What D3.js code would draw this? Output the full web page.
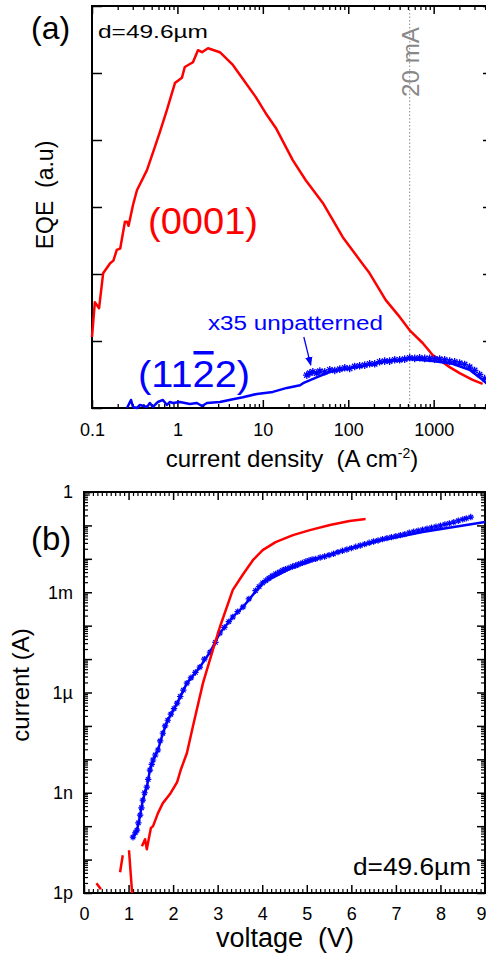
<!DOCTYPE html>
<html><head><meta charset="utf-8">
<script src="https://cdn.jsdelivr.net/npm/d3@7"></script>
<style>
body{margin:0;background:#fff}
svg{display:block}
text{font-family:"Liberation Sans",Arial,sans-serif}
</style>
</head><body>
<svg id="c" width="486" height="960"></svg>
<script>
// ---------- DATA ----------
// Panel (a): EQE (a.u.) vs current density (A cm^-2)
const eqeTickValues = [0.1, 1, 10, 100, 1000];
const eqeTickLabels = ["0.1", "1", "10", "100", "1000"];
const eqeYTicks = [0, 1, 2, 3, 4, 5, 6];
const markerCurrent20mA = 524; // A cm^-2 at 20 mA
const eqe0001 = [[0.100,1.06],[0.108,1.58],[0.121,1.49],[0.135,2.01],[0.163,2.16],[0.178,2.20],[0.195,2.36],[0.214,2.38],[0.243,2.78],[0.257,2.78],[0.268,2.72],[0.302,3.03],[0.336,3.25],[0.440,3.55],[0.546,3.90],[0.624,4.12],[0.754,4.45],[0.935,4.85],[1.13,4.93],[1.22,5.09],[1.52,5.16],[1.74,5.34],[1.94,5.31],[2.28,5.37],[3.14,5.31],[4.46,5.12],[5.84,4.91],[8.28,4.64],[10.8,4.40],[14.2,4.18],[22.4,3.70],[31.8,3.40],[50.4,3.06],[86.3,2.55],[136,2.21],[178,2.01],[275,1.61],[400,1.36],[524,1.16],[743,0.97],[973,0.79],[1538,0.61],[2014,0.52],[2857,0.42],[3741,0.36]];
const eqe1122 = [[0.257,0.0],[0.286,0.12],[0.302,0.015],[0.336,0.0],[0.364,0.045],[0.440,0.015],[0.476,0.075],[0.517,0.015],[0.591,0.09],[0.676,0.12],[0.754,0.045],[0.818,0.09],[0.886,0.075],[1.07,0.09],[1.40,0.06],[1.69,0.075],[1.94,0.03],[2.22,0.075],[3.14,0.09],[4.46,0.13],[5.84,0.16],[8.53,0.21],[13.1,0.24],[19.1,0.30],[27.3,0.34],[29.6,0.37],[43.3,0.46],[61.2,0.54],[126,0.61],[257,0.69],[524,0.73],[973,0.70],[1660,0.66],[2630,0.57],[3740,0.42],[4500,0.33]];
const eqeUnpatternedX35 = [[32.7,0.49],[35.5,0.52],[38.5,0.54],[42.8,0.52],[46.5,0.55],[53.1,0.54],[60.8,0.57],[69.5,0.56],[79.6,0.58],[91.0,0.60],[104,0.59],[119,0.62],[136,0.63],[156,0.64],[178,0.66],[204,0.66],[233,0.69],[267,0.70],[305,0.70],[350,0.72],[400,0.72],[458,0.73],[524,0.75],[600,0.74],[686,0.75],[785,0.74],[898,0.74],[1027,0.73],[1175,0.73],[1345,0.72],[1538,0.70],[1761,0.69],[2015,0.67],[2305,0.65],[2637,0.61],[3017,0.56],[3452,0.50],[3950,0.44],[4520,0.37]];
const arrowFrom = [30.2, 1.06], arrowTo = [36.4, 0.64];

// Panel (b): current (A, log10) vs voltage (V)
const ivXTicks = [0,1,2,3,4,5,6,7,8,9];
const ivYLabelExps = [-12, -9, -6, -3, 0];
const ivYLabels = ["1p", "1n", "1\u00b5", "1m", "1"];
const iv0001 = [[0.28,-11.71],[0.38,-11.89],null,[0.81,-11.38],[0.87,-10.87],null,[1.01,-10.72],[1.08,-12.0],null,[1.30,-10.60],[1.37,-10.39],[1.41,-10.69],[1.50,-10.06],[1.55,-10.00],[1.66,-9.61],[1.77,-9.31],[1.93,-9.04],[2.09,-8.68],[2.17,-8.32],[2.31,-7.81],[2.44,-7.04],[2.67,-5.72],[2.89,-4.73],[3.05,-4.04],[3.34,-2.93],[3.57,-2.46],[3.79,-2.04],[4.01,-1.74],[4.30,-1.50],[4.69,-1.29],[5.07,-1.14],[5.52,-0.99],[5.96,-0.87],[6.32,-0.81]];
const iv1122 = [[1.10,-10.33],[1.19,-10.12],[1.26,-9.67],[1.32,-9.22],[1.41,-8.83],[1.48,-8.32],[1.55,-8.02],[1.66,-7.72],[1.77,-7.22],[1.88,-6.83],[2.09,-6.32],[2.31,-5.72],[2.60,-5.24],[2.83,-4.79],[3.05,-4.22],[3.34,-3.74],[3.57,-3.44],[4.01,-2.72],[4.69,-2.25],[4.98,-2.13],[5.13,-2.04],[5.81,-1.74],[6.70,-1.44],[7.60,-1.20],[8.30,-1.05],[9.0,-0.90]];
const ivUnpatterned = [[1.10,-10.33],[1.15,-10.2],[1.19,-10.12],[1.22,-9.9],[1.26,-9.67],[1.29,-9.45],[1.32,-9.22],[1.36,-9.0],[1.41,-8.83],[1.44,-8.6],[1.48,-8.32],[1.52,-8.15],[1.55,-8.02],[1.60,-7.87],[1.66,-7.72],[1.71,-7.45],[1.77,-7.22],[1.82,-7.0],[1.88,-6.83],[1.95,-6.65],[2.02,-6.48],[2.09,-6.32],[2.16,-6.12],[2.23,-5.93],[2.31,-5.72],[2.40,-5.56],[2.50,-5.40],[2.60,-5.24],[2.70,-5.0],[2.83,-4.79],[2.95,-4.5],[3.05,-4.22],[3.15,-4.05],[3.25,-3.88],[3.34,-3.74],[3.45,-3.58],[3.57,-3.44],[3.70,-3.2],[3.85,-2.95],[3.93,-2.83],[4.01,-2.72],[4.08,-2.65],[4.15,-2.58],[4.22,-2.51],[4.30,-2.45],[4.38,-2.40],[4.45,-2.35],[4.52,-2.31],[4.60,-2.27],[4.68,-2.23],[4.75,-2.20],[4.82,-2.16],[4.90,-2.12],[4.98,-2.08],[5.05,-2.05],[5.12,-2.02],[5.2,-2.0],[5.3,-1.96],[5.4,-1.93],[5.5,-1.89],[5.6,-1.85],[5.7,-1.80],[5.8,-1.76],[5.9,-1.72],[6.0,-1.68],[6.1,-1.64],[6.2,-1.60],[6.3,-1.56],[6.4,-1.52],[6.5,-1.48],[6.6,-1.45],[6.7,-1.41],[6.8,-1.38],[6.9,-1.35],[7.0,-1.32],[7.1,-1.29],[7.2,-1.26],[7.3,-1.22],[7.4,-1.19],[7.5,-1.16],[7.6,-1.13],[7.7,-1.10],[7.8,-1.07],[7.9,-1.04],[8.0,-1.01],[8.1,-0.97],[8.2,-0.94],[8.3,-0.90],[8.4,-0.86],[8.5,-0.82],[8.58,-0.79],[8.68,-0.75]];

// ---------- DRAW ----------
const RED = "#ff0000", BLUE = "#0000ff";
const svg = d3.select("#c");

function addText(g, str, o) {
  const t = g.append("text").text(str)
    .attr("font-size", o.size).attr("fill", o.fill || "#000")
    .attr("text-anchor", o.anchor || "start");
  if (o.len) t.attr("textLength", o.len).attr("lengthAdjust", "spacingAndGlyphs");
  if (o.rotate) t.attr("transform", `translate(${o.x},${o.y}) rotate(${o.rotate})`);
  else t.attr("x", o.x).attr("y", o.y);
  return t;
}
function asterisk(r) {
  const k = r * 0.7;
  return `M${-r},0L${r},0M0,${-r}L0,${r}M${-k},${-k}L${k},${k}M${-k},${k}L${k},${-k}`;
}
function styleAxis(g, w) {
  g.select(".domain").remove();
  g.selectAll(".tick line").attr("stroke", "#000").attr("stroke-width", w);
  g.selectAll(".tick text").attr("font-family", '"Liberation Sans",Arial,sans-serif').attr("fill", "#000");
}

// ===== Panel (a) =====
const xA = d3.scaleLog().domain([0.1, 4950]).range([92, 493]);
const yA = d3.scaleLinear().domain([0, 6]).range([408, 6]);
const gA = svg.append("g");
const minorA = [];
for (let e = -1; e <= 3; e++) for (let m = 2; m <= 9; m++) { const v = m * Math.pow(10, e); if (v < 4950) minorA.push(v); }

// 20 mA dotted line
gA.append("line").attr("x1", xA(markerCurrent20mA)).attr("x2", xA(markerCurrent20mA))
  .attr("y1", yA(6)).attr("y2", yA(0)).attr("stroke", "#888").attr("stroke-width", 1).attr("stroke-dasharray", "1.5,2");

// axes
let ax;
ax = gA.append("g").attr("transform", `translate(0,${yA(0)})`)
  .call(d3.axisBottom(xA).tickValues(eqeTickValues).tickSize(-8).tickPadding(15).tickFormat((d, i) => eqeTickLabels[i]));
styleAxis(ax, 1.5); ax.selectAll(".tick text").attr("font-size", 18);
ax = gA.append("g").attr("transform", `translate(0,${yA(0)})`)
  .call(d3.axisBottom(xA).tickValues(minorA).tickSize(-4).tickFormat(""));
styleAxis(ax, 1.3);
ax = gA.append("g").attr("transform", `translate(0,${yA(6)})`)
  .call(d3.axisTop(xA).tickValues(eqeTickValues).tickSize(-8).tickFormat(""));
styleAxis(ax, 1.5);
ax = gA.append("g").attr("transform", `translate(0,${yA(6)})`)
  .call(d3.axisTop(xA).tickValues(minorA).tickSize(-4).tickFormat(""));
styleAxis(ax, 1.3);
ax = gA.append("g").attr("transform", `translate(${xA(0.1)},0)`)
  .call(d3.axisLeft(yA).tickValues(eqeYTicks).tickSize(-10).tickFormat(""));
styleAxis(ax, 1.5);
ax = gA.append("g").attr("transform", `translate(${xA(4950)},0)`)
  .call(d3.axisRight(yA).tickValues(eqeYTicks).tickSize(-10).tickFormat(""));
styleAxis(ax, 1.5);
gA.append("rect").attr("x", xA(0.1)).attr("y", yA(6)).attr("width", xA(4950) - xA(0.1)).attr("height", yA(0) - yA(6))
  .attr("fill", "none").attr("stroke", "#000").attr("stroke-width", 2);

// series
const lineA = d3.line().x(d => xA(d[0])).y(d => yA(d[1]));
gA.append("path").datum(eqe0001).attr("d", lineA).attr("fill", "none").attr("stroke", RED).attr("stroke-width", 2.5).attr("stroke-linejoin", "round");
gA.append("path").datum(eqe1122).attr("d", lineA).attr("fill", "none").attr("stroke", BLUE).attr("stroke-width", 2.5).attr("stroke-linejoin", "round");
gA.append("g").selectAll("path").data(eqeUnpatternedX35).join("path")
  .attr("transform", d => `translate(${xA(d[0])},${yA(d[1])})`)
  .attr("d", asterisk(3.8)).attr("fill", "none").attr("stroke", BLUE).attr("stroke-width", 1.3);

// arrow
svg.append("defs").append("marker").attr("id", "ah").attr("viewBox", "0 0 10 10").attr("refX", 9).attr("refY", 5)
  .attr("markerWidth", 7).attr("markerHeight", 7).attr("orient", "auto")
  .append("path").attr("d", "M0,1L10,5L0,9Z").attr("fill", BLUE);
gA.append("line").attr("x1", xA(arrowFrom[0])).attr("y1", yA(arrowFrom[1])).attr("x2", xA(arrowTo[0])).attr("y2", yA(arrowTo[1]))
  .attr("stroke", BLUE).attr("stroke-width", 1.3).attr("marker-end", "url(#ah)");

// texts (a)
addText(gA, "(a)", {x: 31, y: 39, size: 32});
addText(gA, "d=49.6\u00b5m", {x: 98, y: 38, size: 19, len: 110});
addText(gA, "20 mA", {x: 419, y: 97, size: 23, fill: "#888", rotate: -90, len: 70});
addText(gA, "(0001)", {x: 148, y: 234, size: 37, fill: RED, len: 110});
addText(gA, "x35 unpatterned", {x: 208, y: 330, size: 19.5, fill: BLUE, len: 175});
const t1122 = addText(gA, "(1122)", {x: 138, y: 387, size: 37, fill: BLUE, len: 112});
{
  const n = t1122.node();
  const p = n.getStartPositionOfChar(3), e = n.getEndPositionOfChar(3);
  gA.append("rect").attr("x", p.x + 1).attr("y", 351).attr("width", e.x - p.x - 2).attr("height", 3.5).attr("fill", BLUE);
}
addText(gA, "EQE\u00a0\u00a0(a.u)", {x: 53, y: 195, size: 23, rotate: -90, anchor: "middle"});
{
  const t = gA.append("text").attr("x", 292).attr("y", 467).attr("font-size", 24).attr("text-anchor", "middle");
  t.append("tspan").text("current density\u00a0\u00a0(A cm");
  t.append("tspan").text("-2").attr("font-size", 14).attr("dy", -9);
  t.append("tspan").text(")").attr("dy", 9);
}

// ===== Panel (b) =====
const xB = d3.scaleLinear().domain([0, 9]).range([84, 485]);
const yB = d3.scaleLog().domain([1e-12, 1]).range([893, 492]);
const gB = svg.append("g");
const majorB = d3.range(-12, 1).map(e => Math.pow(10, e));
const minorB = [];
for (let e = -12; e < 0; e++) for (let m = 2; m <= 9; m++) minorB.push(m * Math.pow(10, e));
const minorXB = d3.range(0, 90).filter(i => i % 10 !== 0).map(i => i / 10);

ax = gB.append("g").attr("transform", `translate(0,${yB(1e-12)})`)
  .call(d3.axisBottom(xB).tickValues(ivXTicks).tickSize(-8).tickPadding(14).tickFormat(d3.format("d")));
styleAxis(ax, 1.5); ax.selectAll(".tick text").attr("font-size", 18);
// last label sits at the right edge: keep it inside the picture
ax.selectAll(".tick text").filter(d => d === 9).attr("text-anchor", "end").attr("dx", 1);
ax = gB.append("g").attr("transform", `translate(0,${yB(1e-12)})`)
  .call(d3.axisBottom(xB).tickValues(minorXB).tickSize(-4).tickFormat(""));
styleAxis(ax, 1.2);
ax = gB.append("g").attr("transform", `translate(0,${yB(1)})`)
  .call(d3.axisTop(xB).tickValues(ivXTicks).tickSize(-8).tickFormat(""));
styleAxis(ax, 1.5);
ax = gB.append("g").attr("transform", `translate(0,${yB(1)})`)
  .call(d3.axisTop(xB).tickValues(minorXB).tickSize(-4).tickFormat(""));
styleAxis(ax, 1.2);
ax = gB.append("g").attr("transform", `translate(${xB(0)},0)`)
  .call(d3.axisLeft(yB).tickValues(majorB).tickSize(-8).tickPadding(11).tickFormat(d => {
    const e = Math.round(Math.log10(d)); const i = ivYLabelExps.indexOf(e); return i >= 0 ? ivYLabels[i] : ""; }));
styleAxis(ax, 1.5); ax.selectAll(".tick text").attr("font-size", 18);
ax = gB.append("g").attr("transform", `translate(${xB(0)},0)`)
  .call(d3.axisLeft(yB).tickValues(minorB).tickSize(-4).tickFormat(""));
styleAxis(ax, 1.2);
ax = gB.append("g").attr("transform", `translate(${xB(9)},0)`)
  .call(d3.axisRight(yB).tickValues(majorB).tickSize(-8).tickFormat(""));
styleAxis(ax, 1.5);
ax = gB.append("g").attr("transform", `translate(${xB(9)},0)`)
  .call(d3.axisRight(yB).tickValues(minorB).tickSize(-4).tickFormat(""));
styleAxis(ax, 1.2);
gB.append("rect").attr("x", xB(0)).attr("y", yB(1)).attr("width", xB(9) - xB(0)).attr("height", yB(1e-12) - yB(1))
  .attr("fill", "none").attr("stroke", "#000").attr("stroke-width", 2);

const lineB = d3.line().defined(d => d !== null).x(d => xB(d[0])).y(d => yB(Math.pow(10, d[1])));
gB.append("path").datum(iv1122).attr("d", lineB).attr("fill", "none").attr("stroke", BLUE).attr("stroke-width", 2.5).attr("stroke-linejoin", "round");
gB.append("g").selectAll("path").data(ivUnpatterned).join("path")
  .attr("transform", d => `translate(${xB(d[0])},${yB(Math.pow(10, d[1]))})`)
  .attr("d", asterisk(3.2)).attr("fill", "none").attr("stroke", BLUE).attr("stroke-width", 1.2);
gB.append("path").datum(iv0001).attr("d", lineB).attr("fill", "none").attr("stroke", RED).attr("stroke-width", 2.5).attr("stroke-linejoin", "round");

addText(gB, "(b)", {x: 31, y: 550, size: 33});
addText(gB, "d=49.6\u00b5m", {x: 471, y: 875, size: 23, anchor: "end", len: 118});
addText(gB, "current (A)", {x: 29, y: 685, size: 24, rotate: -90, anchor: "middle"});
addText(gB, "voltage\u00a0\u00a0(V)", {x: 285, y: 947, size: 27, anchor: "middle"});
</script>
</body></html>
